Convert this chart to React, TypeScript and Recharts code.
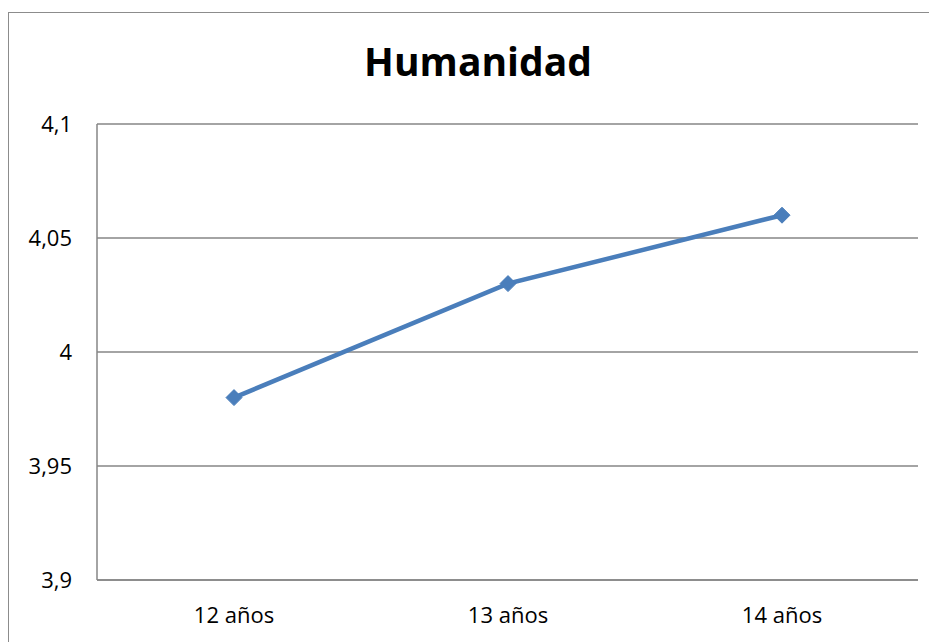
import { LineChart, Line, XAxis, YAxis, CartesianGrid } from 'recharts';

const edades = ['12 años', '13 años', '14 años'];
const humanidad = [3.98, 4.03, 4.06];
const yTicks = [3.9, 3.95, 4, 4.05, 4.1];

const data = edades.map((edad, i) => ({ edad, humanidad: humanidad[i] }));

const fmt = (v: number) => String(v).replace('.', ',');

const Diamond = (props: any) => {
  const { cx, cy } = props;
  if (cx == null || cy == null) return null;
  const r = 8;
  return (
    <polygon
      points={`${cx},${cy - r} ${cx + r},${cy} ${cx},${cy + r} ${cx - r},${cy}`}
      fill="#4a7ebb"
      stroke="#4a7ebb"
      strokeWidth={1}
    />
  );
};

const tickStyle = { fontFamily: '"Open Sans", sans-serif', fontSize: 22, fill: '#000' };

export default function App() {
  return (
    <div
      style={{
        position: 'relative',
        marginTop: 4,
        width: 945,
        height: 640,
        borderLeft: '1px solid #8c8c8c',
        borderTop: '1px solid #8c8c8c',
        background: '#fff',
        overflow: 'hidden',
      }}
    >
      <style>{'html,body{overflow:hidden}'}</style>
      <div
        style={{
          position: 'absolute',
          left: 0,
          top: 28,
          width: 938,
          textAlign: 'center',
          fontFamily: '"Open Sans", sans-serif',
          fontWeight: 700,
          fontSize: 39,
          lineHeight: 1,
          color: '#000',
        }}
      >
        Humanidad
      </div>
      <LineChart
        width={928}
        height={629}
        data={data}
        margin={{ top: 111, right: 19, bottom: 32, left: 8 }}
      >
        <CartesianGrid vertical={false} stroke="#868686" strokeWidth={1.5} />
        <XAxis
          dataKey="edad"
          padding={{ left: 137, right: 136 }}
          height={30}
          tickLine={false}
          tickSize={0}
          tickMargin={27}
          axisLine={{ stroke: '#868686', strokeWidth: 1.5 }}
          tick={tickStyle}
        />
        <YAxis
          domain={[3.9, 4.1]}
          ticks={yTicks}
          width={80}
          tickLine={false}
          tickSize={0}
          tickMargin={25}
          axisLine={{ stroke: '#868686', strokeWidth: 1.5 }}
          tick={tickStyle}
          tickFormatter={fmt}
        />
        <Line
          type="linear"
          dataKey="humanidad"
          stroke="#4a7ebb"
          strokeWidth={4.5}
          dot={<Diamond />}
          activeDot={false}
          isAnimationActive={false}
        />
      </LineChart>
    </div>
  );
}
